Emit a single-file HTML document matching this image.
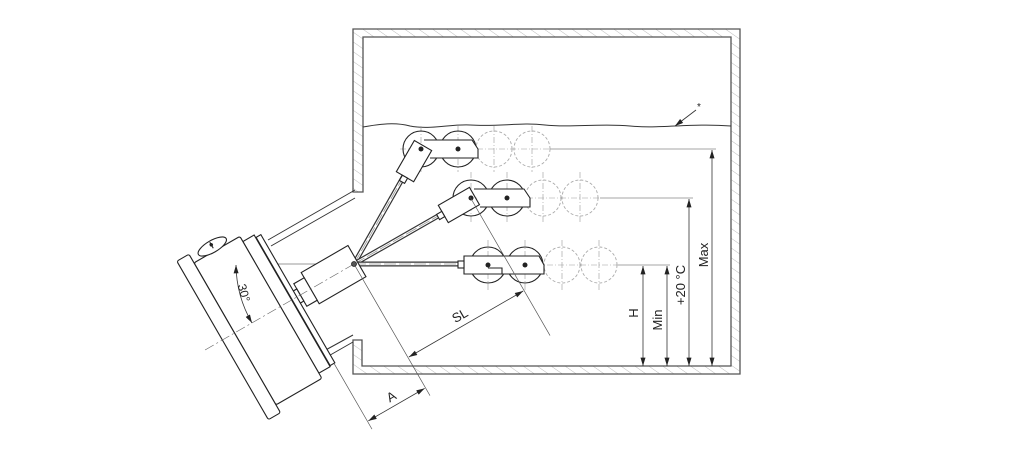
<!DOCTYPE html>
<html><head><meta charset="utf-8"><style>
html,body{margin:0;padding:0;background:#fff;width:1032px;height:458px;overflow:hidden;}
svg{display:block;}
text{font-family:"Liberation Sans",sans-serif;fill:#222;}
</style></head><body>
<svg width="1032" height="458" viewBox="0 0 1032 458" xmlns="http://www.w3.org/2000/svg">
<defs>
<pattern id="h" width="8" height="8" patternUnits="userSpaceOnUse" patternTransform="rotate(-55)">
<line x1="0" y1="0" x2="0" y2="8" stroke="#aaa" stroke-width="0.8"/>
</pattern>
<marker id="ar" viewBox="0 0 10 6" refX="10" refY="3" markerWidth="9" markerHeight="5" orient="auto-start-reverse" markerUnits="userSpaceOnUse">
<path d="M0,0 L10,3 L0,6 z" fill="#222"/>
</marker>
</defs>

<!-- Tank walls -->
<g stroke="#555" stroke-width="1.3">
<path d="M353,29 H740 V374 H353 V340 H362 V366 H731 V37 H363 V192 H353 Z" fill="url(#h)"/>
</g>

<!-- liquid surface -->
<path d="M363,127 C380,124 395,122 410,126 C430,130 450,124 470,125 C500,127 520,122 545,125 C570,128 600,123 630,126 C660,129 690,123 731,126" fill="none" stroke="#333" stroke-width="1"/>
<line x1="675" y1="126" x2="696" y2="110" stroke="#333" stroke-width="0.8" marker-start="url(#ar)"/>
<text x="697" y="110" font-size="10">*</text>

<!-- horizontal reference lines -->
<g stroke="#888" stroke-width="0.8">
<line x1="550" y1="149" x2="716" y2="149"/>
<line x1="600" y1="198" x2="693" y2="198"/>
<line x1="618" y1="265" x2="670" y2="265"/>
</g>
<!-- vertical dimensions -->
<g stroke="#333" stroke-width="0.8">
<line x1="643" y1="266" x2="643" y2="366" marker-start="url(#ar)" marker-end="url(#ar)"/>
<line x1="667" y1="266" x2="667" y2="366" marker-start="url(#ar)" marker-end="url(#ar)"/>
<line x1="689" y1="199" x2="689" y2="366" marker-start="url(#ar)" marker-end="url(#ar)"/>
<line x1="712" y1="150" x2="712" y2="366" marker-start="url(#ar)" marker-end="url(#ar)"/>
</g>
<text transform="translate(638,313) rotate(-90)" font-size="13" text-anchor="middle">H</text>
<text transform="translate(662,320) rotate(-90)" font-size="13" text-anchor="middle">Min</text>
<text transform="translate(685,285) rotate(-90)" font-size="13" text-anchor="middle">+20 °C</text>
<text transform="translate(708,255) rotate(-90)" font-size="13" text-anchor="middle">Max</text>

<!-- dashed ghost floats -->
<g fill="none" stroke="#aaa" stroke-width="0.9" stroke-dasharray="3,2">
<circle cx="494" cy="149" r="18"/><circle cx="532" cy="149" r="18"/>
<circle cx="543" cy="198" r="18"/><circle cx="580" cy="198" r="18"/>
<circle cx="562" cy="265" r="18"/><circle cx="599" cy="265" r="18"/>
</g>
<g stroke="#999" stroke-width="0.6" stroke-dasharray="6,2,1,2">
<line x1="421" y1="126" x2="421" y2="172"/><line x1="458" y1="126" x2="458" y2="172"/>
<line x1="494" y1="126" x2="494" y2="172"/><line x1="532" y1="126" x2="532" y2="172"/>
<line x1="471" y1="172" x2="471" y2="222"/><line x1="507" y1="172" x2="507" y2="222"/>
<line x1="543" y1="172" x2="543" y2="222"/><line x1="580" y1="172" x2="580" y2="222"/>
<line x1="488" y1="240" x2="488" y2="290"/><line x1="525" y1="240" x2="525" y2="290"/>
<line x1="562" y1="240" x2="562" y2="290"/><line x1="599" y1="240" x2="599" y2="290"/>
<line x1="400" y1="149" x2="550" y2="149"/>
<line x1="450" y1="198" x2="600" y2="198"/>
<line x1="470" y1="265" x2="618" y2="265"/>
</g>

<!-- rods -->
<g stroke-linecap="butt">
<line x1="354" y1="264" x2="405" y2="174" stroke="#333" stroke-width="5"/>
<line x1="354" y1="264" x2="405" y2="174" stroke="#fff" stroke-width="2.6"/>
<line x1="354" y1="264" x2="405" y2="174" stroke="#999" stroke-width="0.8" stroke-dasharray="12,3"/>
<line x1="354" y1="264" x2="445" y2="212" stroke="#333" stroke-width="5"/>
<line x1="354" y1="264" x2="445" y2="212" stroke="#fff" stroke-width="2.6"/>
<line x1="354" y1="264" x2="445" y2="212" stroke="#999" stroke-width="0.8" stroke-dasharray="12,3"/>
<line x1="354" y1="264" x2="458" y2="264" stroke="#333" stroke-width="5"/>
<line x1="354" y1="264" x2="458" y2="264" stroke="#fff" stroke-width="2.6"/>
<line x1="354" y1="264" x2="458" y2="264" stroke="#999" stroke-width="0.8" stroke-dasharray="12,3"/>
</g>

<!-- floats -->
<g fill="none" stroke="#222" stroke-width="1.1">
<circle cx="421" cy="149" r="18"/><circle cx="458" cy="149" r="18"/>
<path d="M424,140 H472 L478,149 V158 H430" fill="#fff"/>
<g transform="translate(421,149) rotate(-60)"><rect x="-32" y="-10" width="36" height="20" fill="#fff"/><rect x="-38" y="-3" width="6" height="6" fill="#fff"/></g>
<circle cx="471" cy="198" r="18"/><circle cx="507" cy="198" r="18"/>
<path d="M474,189 H524 L530,198 V207 H480" fill="#fff"/>
<g transform="translate(471,198) rotate(-30)"><rect x="-32" y="-10" width="36" height="20" fill="#fff"/><rect x="-38" y="-3" width="6" height="6" fill="#fff"/></g>
<circle cx="488" cy="265" r="18"/><circle cx="525" cy="265" r="18"/>
<path d="M464,256 H539 L544,265 V274 H464 Z" fill="#fff"/>
<rect x="458" y="261" width="6" height="7" fill="#fff"/>
<path d="M488,268 H502 V274"/>
</g>
<g fill="#222">
<circle cx="421" cy="149" r="2.5"/><circle cx="458" cy="149" r="2.5"/>
<circle cx="471" cy="198" r="2.5"/><circle cx="507" cy="198" r="2.5"/>
<circle cx="488" cy="265" r="2.5"/><circle cx="525" cy="265" r="2.5"/>
</g>

<line x1="229" y1="264" x2="354" y2="264" stroke="#777" stroke-width="0.8"/>

<!-- left unit -->
<line x1="268" y1="240" x2="355" y2="190" stroke="#333" stroke-width="1"/>
<line x1="271" y1="246" x2="355" y2="198" stroke="#333" stroke-width="1"/>
<line x1="322" y1="352" x2="353" y2="335" stroke="#333" stroke-width="1"/>
<line x1="325" y1="358" x2="353" y2="342" stroke="#333" stroke-width="1"/>
<g transform="translate(354,264) rotate(-30)" fill="#fff" stroke="#222" stroke-width="1.1">
<rect x="-50" y="-19" width="54" height="36"/>
<rect x="-62" y="-13" width="12" height="26"/>
<rect x="-67" y="-7" width="5" height="14"/>
<rect x="-72" y="-72" width="6" height="148"/>
<line x1="-72" y1="-72" x2="-72" y2="76" stroke-width="2.2"/>
<rect x="-85" y="-75" width="13" height="152"/>
<rect x="-138" y="-81" width="53" height="164" rx="2"/>
<rect x="-152" y="-91" width="14" height="183" rx="2"/>
<ellipse cx="-114" cy="-86" rx="16" ry="6"/>
<line x1="-114" y1="-91" x2="-114" y2="-84"/>
<circle cx="-114" cy="-88" r="1.2" fill="#222"/>
<line x1="0" y1="0" x2="-175" y2="0" stroke="#666" stroke-width="0.7" stroke-dasharray="10,3,2,3"/>
<line x1="0" y1="0" x2="0" y2="152" stroke="#555" stroke-width="0.7"/>
<line x1="-67" y1="76" x2="-67" y2="152" stroke="#555" stroke-width="0.7"/>
<line x1="134" y1="0" x2="134" y2="160" stroke="#555" stroke-width="0.7"/>
<line x1="1" y1="108" x2="133" y2="108" stroke="#333" stroke-width="0.8" marker-start="url(#ar)" marker-end="url(#ar)"/>
<text x="66" y="102" font-size="13" text-anchor="middle" stroke="none">SL</text>
<line x1="-66" y1="143" x2="-1" y2="143" stroke="#333" stroke-width="0.8" marker-start="url(#ar)" marker-end="url(#ar)"/>
<text x="-34" y="138" font-size="13" text-anchor="middle" stroke="none">A</text>
</g>
<circle cx="354" cy="264" r="2.5" fill="#555" stroke="#222" stroke-width="0.8"/>

<path d="M236,265 A118,118 0 0 0 252,323" fill="none" stroke="#333" stroke-width="0.8" marker-start="url(#ar)" marker-end="url(#ar)"/>
<text transform="translate(240,294) rotate(75)" font-size="12" text-anchor="middle">30°</text>
</svg>
</body></html>
